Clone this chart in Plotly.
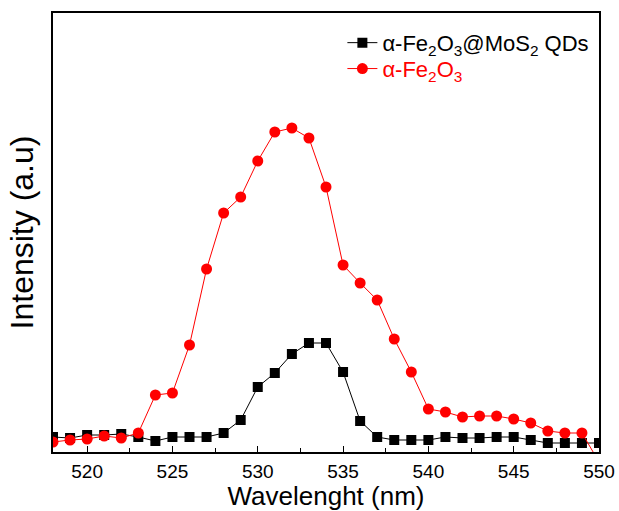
import plotly.graph_objects as go

wavelength = list(range(518, 551))
composite = [15, 14, 17, 17, 18, 15, 11, 15, 15, 15, 19, 32, 65, 79, 98, 109, 109, 80, 31, 15,
             12, 12, 12, 15, 14, 14, 15, 15, 12, 9, 9, 9, 9]
pristine = [10, 12, 13, 16, 14, 19, 57, 59, 107, 183, 239, 255, 291, 320, 324, 314, 265, 187, 169, 152,
            113, 80, 43, 40, 35, 36, 36, 33, 29, 21, 19, 19, -10]
name_composite = "α-Fe<sub>2</sub>O<sub>3</sub>@MoS<sub>2</sub> QDs"
name_pristine = "<span style='color:red'>α-Fe<sub>2</sub>O<sub>3</sub></span>"

fig = go.Figure()
fig.add_trace(go.Scatter(x=wavelength, y=composite, mode="lines+markers", name=name_composite,
                         line=dict(color="black", width=1), legend="legend",
                         marker=dict(symbol="square", size=10, color="black")))
fig.add_trace(go.Scatter(x=wavelength, y=pristine, mode="lines+markers", name=name_pristine,
                         line=dict(color="red", width=1), legend="legend2",
                         marker=dict(symbol="circle", size=11, color="red")))

leg_common = dict(x=0.53, xanchor="left", yanchor="middle", bgcolor="rgba(0,0,0,0)",
                  font=dict(size=22))
fig.update_layout(
    width=619, height=511,
    margin=dict(l=53, r=20, t=13, b=59),
    paper_bgcolor="white", plot_bgcolor="white",
    font=dict(family="Liberation Sans, Arial", size=20, color="black"),
    showlegend=True,
    legend=dict(y=0.932, **leg_common),
    legend2=dict(y=0.873, **leg_common),
)
fig.update_xaxes(range=[518, 550], showline=True, linecolor="black", linewidth=2, mirror=True,
                 ticks="inside", ticklen=6, tickwidth=1, tickcolor="black", dtick=5, tick0=520,
                 minor=dict(ticks="inside", ticklen=4, dtick=2.5, tick0=520, tickcolor="black"),
                 showgrid=False, zeroline=False, tickfont=dict(size=19), ticklabelstandoff=1,
                 automargin=False,
                 title=dict(text="Wavelenght (nm)", font=dict(size=26), standoff=4))
fig.update_yaxes(range=[0, 439], showline=True, linecolor="black", linewidth=2, mirror=True,
                 ticks="", showticklabels=False, showgrid=False, zeroline=False, automargin=False,
                 title=dict(text="Intensity (a.u)", font=dict(size=32), standoff=8))

fig.write_html("out.html")
